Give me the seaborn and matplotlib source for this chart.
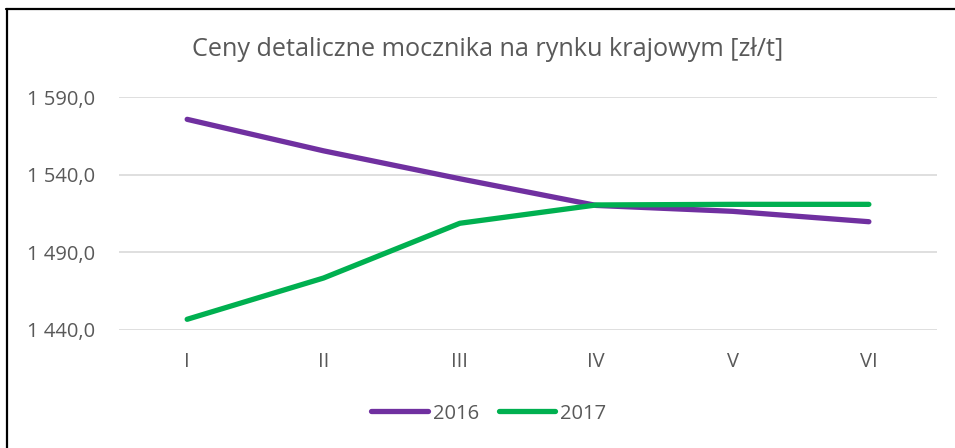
import pandas as pd
import seaborn as sns
import matplotlib.pyplot as plt
from matplotlib.lines import Line2D
from matplotlib.ticker import FuncFormatter

# Data
months = ['I', 'II', 'III', 'IV', 'V', 'VI']
prices_2016 = [1575.8, 1555.5, 1537.5, 1520.3, 1516.5, 1509.8]
prices_2017 = [1446.9, 1473.5, 1508.8, 1520.6, 1521.0, 1521.0]
y_ticks = [1440, 1490, 1540, 1590]

df = pd.DataFrame({
    'month': months * 2,
    'price': prices_2016 + prices_2017,
    'year': ['2016'] * len(months) + ['2017'] * len(months),
})

sns.set_style('white')
plt.rcParams['font.family'] = ['Open Sans', 'DejaVu Sans']

text_color = '#595959'
fig = plt.figure(figsize=(9.55, 4.48), dpi=100)
ax = fig.add_axes([0.1246, 0.2634, 0.8566, 0.5194])

sns.lineplot(data=df, x='month', y='price', hue='year',
             palette={'2016': '#7030A0', '2017': '#00B050'},
             linewidth=3.8, ax=ax, legend=False, sort=False)
for line in ax.lines:
    line.set_solid_capstyle('round')
    line.set_solid_joinstyle('round')

ax.set_xlim(-0.5, len(months) - 0.5)
ax.set_ylim(1440, 1590)
ax.set_yticks(y_ticks)
ax.yaxis.set_major_formatter(FuncFormatter(
    lambda v, p: f"{v:,.1f}".replace(',', ' ').replace('.', ',')))
ax.grid(axis='y', color='#d9d9d9', linewidth=1.2)
ax.set_axisbelow(True)
for s in ax.spines.values():
    s.set_visible(False)
ax.tick_params(axis='both', length=0, labelsize=14.5, labelcolor=text_color)
ax.tick_params(axis='x', pad=16)
ax.tick_params(axis='y', pad=17)
ax.set_xlabel('')
ax.set_ylabel('')

fig.text(0.511, 0.89, 'Ceny detaliczne mocznika na rynku krajowym [zł/t]',
         ha='center', va='center', fontsize=18.2, color=text_color)

handles = [Line2D([0], [0], color='#7030A0', lw=3.8, solid_capstyle='round'),
           Line2D([0], [0], color='#00B050', lw=3.8, solid_capstyle='round')]
leg = fig.legend(handles, ['2016', '2017'], loc='center', ncol=2,
                 bbox_to_anchor=(0.512, 0.077), frameon=False, fontsize=14.5,
                 handlelength=2.8, handletextpad=0.25, columnspacing=1.0)
for t in leg.get_texts():
    t.set_color(text_color)

# outer frame: top and left edges only
fig.add_artist(Line2D([0.0065, 1.0], [0.979, 0.979], color='black', lw=1.6,
                      transform=fig.transFigure))
fig.add_artist(Line2D([0.0075, 0.0075], [0.0, 0.979], color='black', lw=1.6,
                      transform=fig.transFigure))

fig.savefig('out.png', dpi=100)
